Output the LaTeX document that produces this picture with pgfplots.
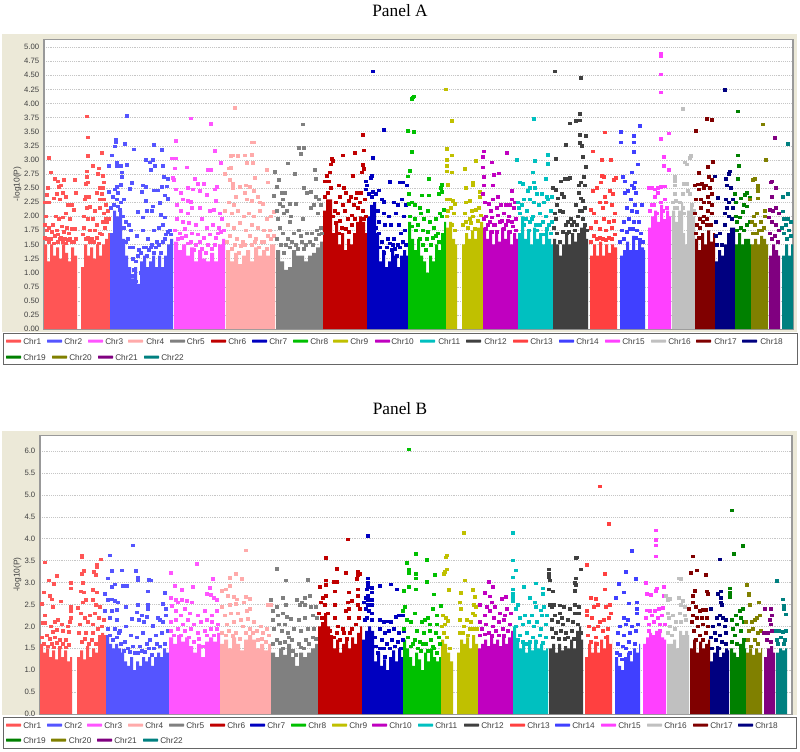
\documentclass[border=0pt]{standalone}
\usepackage{pgfplots}
\pgfplotsset{compat=1.18}
\usepackage{fontspec}
\setmainfont{Liberation Sans}
\newfontfamily\titlefont{Liberation Serif}
\definecolor{c1}{HTML}{FF5555}\definecolor{c2}{HTML}{5555FF}\definecolor{c3}{HTML}{FF55FF}\definecolor{c4}{HTML}{FFAAAA}
\definecolor{c5}{HTML}{808080}\definecolor{c6}{HTML}{C00000}\definecolor{c7}{HTML}{0000C0}\definecolor{c8}{HTML}{00C000}
\definecolor{c9}{HTML}{C0C000}\definecolor{c10}{HTML}{C000C0}\definecolor{c11}{HTML}{00C0C0}\definecolor{c12}{HTML}{404040}
\definecolor{c13}{HTML}{FF4040}\definecolor{c14}{HTML}{4040FF}\definecolor{c15}{HTML}{FF40FF}\definecolor{c16}{HTML}{C0C0C0}
\definecolor{c17}{HTML}{800000}\definecolor{c18}{HTML}{000080}\definecolor{c19}{HTML}{008000}\definecolor{c20}{HTML}{808000}
\definecolor{c21}{HTML}{800080}\definecolor{c22}{HTML}{008080}
\definecolor{beige}{HTML}{ECE9D8}
\pgfplotsset{
 S/.style={fill=#1,draw=none,const plot},
 P/.style={only marks,mark=square*,mark size=1pt,color=#1,mark options={draw=none,fill=#1}},
 man/.style={scale only axis,anchor=north west,xtick=\empty,major tick length=0pt,
  ymajorgrids,grid style={densely dotted,gray!45,line width=0.35pt},
  axis line style={draw=black!40,line width=0.8pt},
  axis background/.style={fill=white},
  clip=true,axis on top=false,
  tick label style={font=\fontsize{5.8}{7}\selectfont,text=black!75},
  yticklabel style={/pgf/number format/.cd,fixed,fixed zerofill,assume math mode=true},
  ylabel={-log10(P)}},
}
\newcommand\legendrow[2]{\foreach \c/\n/\a/\t in {#2}{%
  \fill[\c,rounded corners=0.4pt] (\a,#1-1.5) rectangle (\a+15,#1+1.5);
  \node[anchor=west,inner sep=0pt,font=\fontsize{6.2}{7}\selectfont,text=black!75] at (\t,#1) {\n};}}
\begin{document}
\begin{tikzpicture}
\begin{scope}[x=0.75pt,y=-0.75pt]
\fill[white] (0,0) rectangle (800,749);
\fill[beige] (2,32) rectangle (797,330);
\fill[beige] (2,429) rectangle (797,713);
\node[font=\titlefont\fontsize{13}{15}\selectfont] at (400,8.5) {Panel A};
\node[font=\titlefont\fontsize{13}{15}\selectfont] at (400,407) {Panel B};
\coordinate (A) at (44,37);
\coordinate (B) at (40,433);
\draw[black!60,fill=white,line width=0.7pt] (3,331) rectangle (797,362);
\draw[black!60,fill=white,line width=0.7pt] (3,715) rectangle (796,746);
\legendrow{339}{c1/Chr1/6/23,c2/Chr2/47/64,c3/Chr3/88/105,c4/Chr4/128/146,c5/Chr5/170/186.6,c6/Chr6/211/228,c7/Chr7/252/269,c8/Chr8/293/310,c9/Chr9/333/350,c10/Chr10/375/391,c11/Chr11/420/438,c12/Chr12/466/484,c13/Chr13/513/530,c14/Chr14/559/576,c15/Chr15/605/622,c16/Chr16/651/668,c17/Chr17/696/714,c18/Chr18/742/760}
\legendrow{355}{c19/Chr19/6/23,c20/Chr20/52/69,c21/Chr21/98/115,c22/Chr22/144/161}
\legendrow{723}{c1/Chr1/6/23,c2/Chr2/47/64,c3/Chr3/87/104,c4/Chr4/128/145,c5/Chr5/169/186,c6/Chr6/210/227,c7/Chr7/250/267,c8/Chr8/291/308,c9/Chr9/332/349,c10/Chr10/372/389,c11/Chr11/418/435,c12/Chr12/464/481,c13/Chr13/510/527,c14/Chr14/555/572,c15/Chr15/601/618,c16/Chr16/647/664,c17/Chr17/693/710,c18/Chr18/738/755}
\legendrow{738}{c19/Chr19/6/23,c20/Chr20/51/68.6,c21/Chr21/97/114,c22/Chr22/143/160}
\end{scope}
\begin{axis}[man,at={(A)},width=561.75pt,height=217.5pt,xmin=44,xmax=793,ymin=0,ymax=5.142,
 ytick={0,0.25,...,5.01},yticklabel style={/pgf/number format/precision=2},
 every axis y label/.style={at={(rel axis cs:0,0.5)},xshift=-20pt,rotate=90,anchor=center,font=\fontsize{6.3}{7}\selectfont,text=black!75}]
\addplot[S=c1] table {
44 1.5
47 1.2
50 1.5
53 1.3
56 1.45
59 1.25
62 1.5
65 1.35
68 1.2
71 1.45
74 1.3
77 1.3
} \closedcycle;
\addplot[S=c1] table {
81 1.1
84 1.5
87 1.3
90 1.45
93 1.25
96 1.5
99 1.3
102 1.5
105 1.6
108 1.7
110 1.7
} \closedcycle;
\addplot[P=c1] table {
49 3.04
51 2.78
48 2.5
45 2.25
49 2.25
47 2.38
55 2.67
58 2.62
61 2.55
64 2.65
59 2.52
63 2.42
57 2.4
60 2.3
54 2.32
66 2.35
68 2.2
66 2.05
72 2.2
75 2.65
76 2.42
74 2.12
56 2.0
59 1.95
63 1.98
70 1.95
46 2.0
45 1.85
47 1.75
49 1.8
53 1.85
57 1.75
62 1.82
67 1.8
72 1.78
75 1.78
51 1.6
55 1.65
60 1.6
65 1.6
70 1.6
74 1.55
47 1.6
52 1.72
58 1.68
64 1.72
69 1.7
45 1.62
49 1.55
54 1.52
58 1.55
61 1.62
63 1.55
66 1.52
68 1.58
72 1.55
76 1.6
87 3.77
88 3.40
88 3.07
102 3.12
93 2.90
99 2.85
98 2.75
87 2.8
87 2.7
86 2.58
88 2.6
103 2.72
104 2.6
100 2.5
103 2.5
97 2.42
102 2.4
86 2.35
89 2.35
85 2.3
100 2.3
104 2.3
90 2.17
87 2.15
95 2.1
100 2.15
106 2.2
108 2.1
84 2.0
88 1.95
93 1.95
97 1.85
103 1.9
107 1.9
84 1.8
90 1.75
95 1.75
100 1.7
86 1.6
92 1.6
83 1.68
88 1.62
90 1.55
94 1.55
97 1.62
99 1.52
102 1.68
105 1.8
106 1.95
109 1.95
104 2.05
};
\addplot[S=c2] table {
110 1.7
113 2.1
116 2.0
119 2.1
122 1.6
125 1.3
128 1.1
131 0.9
134 1.1
137 0.8
140 1.2
143 1.3
146 1.1
149 1.2
152 1.3
155 1.1
158 1.3
161 1.1
164 1.3
167 1.5
170 1.6
173 1.6
} \closedcycle;
\addplot[P=c2] table {
116 3.36
116 3.32
115 3.24
125 3.28
127 3.78
134 3.19
112 3.08
109 2.9
117 2.96
117 2.9
121 2.9
127 2.91
146 3.0
153 3.0
154 3.27
162 3.18
150 2.96
151 2.82
155 2.9
163 2.89
164 2.7
168 2.66
122 2.78
122 2.7
132 2.59
130 2.49
121 2.56
117 2.52
109 2.43
115 2.48
118 2.42
142 2.43
143 2.55
146 2.52
154 2.46
158 2.46
162 2.52
167 2.53
165 2.37
168 2.31
146 2.28
160 2.24
153 2.18
113 2.35
117 2.3
121 2.25
124 2.3
138 2.08
143 1.98
147 2.1
152 2.1
161 2.03
165 1.98
129 1.85
131 1.75
137 1.65
143 1.75
148 1.6
154 1.75
159 1.8
163 1.85
170 1.75
126 1.55
133 1.45
139 1.4
146 1.45
151 1.45
157 1.55
165 1.6
134 1.05
132 0.95
136 0.85
141 1.0
111 2.15
114 2.2
118 2.18
120 2.12
123 2.0
124 1.8
126 1.9
128 1.6
130 1.45
133 1.25
136 1.2
138 1.3
141 1.35
144 1.45
147 1.3
149 1.4
152 1.5
154 1.35
156 1.45
159 1.5
161 1.35
163 1.55
166 1.68
168 1.72
171 1.68
};
\addplot[S=c3] table {
174 1.55
178 1.4
182 1.5
186 1.3
190 1.45
194 1.2
198 1.4
202 1.25
206 1.2
210 1.35
214 1.2
218 1.5
222 1.6
225 1.6
} \closedcycle;
\addplot[P=c3] table {
176 3.34
172 3.03
176 3.03
175 2.85
174 2.65
173 2.68
176 2.48
181 2.42
187 2.87
191 3.74
195 2.67
188 2.5
193 2.48
198 2.58
200 2.45
204 2.58
208 2.82
211 2.83
211 3.64
215 3.16
221 2.95
217 2.52
215 2.48
216 2.28
207 2.38
183 2.3
188 2.28
191 2.26
200 2.15
177 2.2
181 2.1
188 2.05
192 2.15
210 2.1
214 2.12
220 2.05
177 1.95
183 1.9
189 1.88
196 1.85
202 1.95
207 1.8
213 1.85
219 1.8
222 1.95
180 1.7
186 1.65
192 1.7
198 1.68
204 1.62
210 1.68
216 1.62
198 1.15
205 1.1
211 1.15
175 1.75
178 1.6
182 1.62
185 1.78
188 1.52
191 1.55
194 1.4
196 1.5
200 1.55
202 1.42
206 1.35
208 1.5
212 1.42
215 1.5
218 1.7
221 1.72
224 1.75
};
\addplot[S=c4] table {
226 1.4
230 1.2
234 1.35
238 1.15
242 1.3
246 1.4
250 1.2
254 1.45
258 1.3
262 1.4
266 1.3
270 1.5
275 1.5
} \closedcycle;
\addplot[P=c4] table {
235 3.92
231 3.07
233 3.08
229 2.85
231 2.86
225 2.75
230 2.65
233 2.58
238 3.07
245 3.08
252 3.09
252 3.31
254 3.31
247 2.95
253 2.95
240 2.52
233 2.5
236 2.35
229 2.25
234 2.2
246 2.55
250 2.52
254 2.45
245 2.42
258 2.35
247 2.3
252 2.28
260 2.25
263 2.22
268 2.6
267 2.82
255 2.68
225 2.1
232 2.05
238 2.1
244 2.0
249 2.05
254 2.0
260 2.1
267 1.95
271 2.0
274 2.08
228 1.85
234 1.8
240 1.88
246 1.75
252 1.85
258 1.8
264 1.75
270 1.75
230 1.65
237 1.6
243 1.55
250 1.65
256 1.6
262 1.55
268 1.65
227 1.55
232 1.42
235 1.5
239 1.35
241 1.48
245 1.5
248 1.38
252 1.5
255 1.55
259 1.45
264 1.55
267 1.42
271 1.6
274 1.65
};
\addplot[S=c5] table {
276 1.4
280 1.2
284 1.05
288 1.1
292 1.4
296 1.3
300 1.3
304 1.2
308 1.3
312 1.35
316 1.45
320 1.55
323 1.55
} \closedcycle;
\addplot[P=c5] table {
275 2.79
279 2.65
277 2.52
274 2.36
280 2.22
282 2.42
285 2.42
288 2.94
295 2.75
299 3.22
301 3.11
304 3.22
303 3.63
304 2.5
307 2.42
311 2.44
315 2.83
316 2.67
316 2.35
283 2.3
283 2.18
284 2.05
287 2.1
291 2.0
296 2.22
290 2.22
290 1.9
303 1.95
311 2.15
314 2.2
319 2.3
321 2.2
318 2.05
277 2.1
278 1.95
280 1.8
283 1.7
288 1.6
294 1.7
299 1.75
302 1.55
307 1.7
312 1.7
317 1.75
321 1.8
277 1.6
281 1.5
284 1.35
286 1.5
290 1.45
292 1.55
296 1.5
298 1.42
301 1.65
304 1.42
306 1.5
310 1.55
313 1.5
316 1.6
319 1.68
322 1.7
};
\addplot[S=c6] table {
323 2.1
326 2.3
329 2.3
332 1.7
335 1.9
338 1.5
341 1.7
344 1.4
347 1.6
350 1.5
353 1.7
356 1.9
359 2.0
362 1.9
365 1.7
367 1.7
} \closedcycle;
\addplot[P=c6] table {
333 2.98
332 3.02
331 2.92
330 2.78
327 2.72
329 2.62
325 2.62
331 2.5
328 2.42
325 2.35
343 3.08
355 3.12
353 2.72
364 3.17
363 2.91
364 2.84
362 2.78
363 3.44
339 2.55
344 2.5
346 2.42
351 2.35
357 2.42
356 2.32
361 2.42
365 2.3
340 2.35
336 2.25
343 2.2
349 2.28
354 2.2
360 2.25
338 2.05
345 2.1
352 2.02
358 2.15
363 2.1
335 2.1
348 1.95
333 2.0
336 1.88
340 1.92
342 1.8
346 1.78
349 1.72
352 1.85
355 1.95
364 1.95
366 2.0
339 1.7
};
\addplot[S=c7] table {
367 2.0
370 2.2
373 2.25
376 1.7
379 1.2
382 1.4
385 1.1
388 1.2
391 1.4
394 1.3
397 1.1
400 1.3
403 1.4
406 1.3
408 1.3
} \closedcycle;
\addplot[P=c7] table {
373 4.57
384 3.53
373 3.04
372 2.72
371 2.68
366 2.62
367 2.55
366 2.48
369 2.4
373 2.44
379 2.46
372 2.35
376 2.4
390 2.61
400 2.6
382 2.3
384 2.26
378 2.1
394 2.25
398 2.2
403 2.6
407 2.55
384 2.05
389 2.0
396 2.05
402 2.3
406 2.2
379 1.9
385 1.85
391 1.85
399 1.85
404 2.0
379 1.7
388 1.6
394 1.6
401 1.7
405 1.75
382 1.55
392 1.4
398 1.5
376 1.8
377 1.6
380 1.45
384 1.35
387 1.45
390 1.52
393 1.5
395 1.42
397 1.3
400 1.45
403 1.55
406 1.5
};
\addplot[S=c8] table {
408 1.9
411 1.6
414 1.4
417 1.6
420 1.3
423 1.2
426 1.0
429 1.3
432 1.2
435 1.5
438 1.4
441 1.7
444 1.9
446 1.9
} \closedcycle;
\addplot[P=c8] table {
413 4.11
414 4.13
412 4.08
408 3.52
414 3.50
412 3.14
410 2.81
408 2.71
429 2.67
442 2.56
441 2.5
409 2.4
422 2.37
429 2.37
439 2.4
442 2.43
412 2.25
409 2.22
415 2.2
420 2.15
421 2.05
428 2.1
440 2.05
444 2.12
415 1.95
424 1.95
430 1.9
436 1.95
442 2.0
416 1.75
423 1.75
428 1.72
434 1.8
438 1.7
410 2.0
412 1.82
418 1.85
420 1.6
423 1.5
426 1.4
427 1.6
431 1.5
433 1.62
436 1.65
439 1.55
};
\addplot[S=c9] table {
446 1.8
449 1.9
452 1.6
455 1.5
457 1.5
} \closedcycle;
\addplot[S=c9] table {
462 1.5
465 1.7
468 1.6
471 1.75
474 1.6
477 1.8
480 1.9
483 1.9
} \closedcycle;
\addplot[P=c9] table {
446 4.25
452 3.69
447 3.2
452 3.08
447 3.0
447 2.9
447 2.8
452 2.78
448 2.56
465 2.84
476 2.98
466 2.5
473 2.6
473 2.55
480 2.43
480 2.35
447 2.3
450 2.3
453 2.28
455 2.22
448 2.1
451 2.15
454 2.05
447 2.0
466 2.25
470 2.28
472 2.1
476 2.12
479 2.15
465 2.05
470 1.95
473 2.0
466 1.9
452 1.85
455 1.75
463 1.85
468 1.8
471 1.88
475 1.78
478 1.92
481 2.02
};
\addplot[S=c10] table {
483 1.8
486 1.6
489 1.75
492 1.5
495 1.7
498 1.55
501 1.8
504 1.6
507 1.75
510 1.5
513 1.7
516 1.6
518 1.6
} \closedcycle;
\addplot[P=c10] table {
484 3.15
483 3.05
483 2.87
492 2.96
507 3.12
494 2.74
499 2.76
484 2.7
484 2.55
493 2.55
512 2.45
512 2.3
498 2.35
493 2.3
489 2.22
483 2.4
485 2.25
491 2.1
497 2.15
501 2.2
506 2.2
510 2.2
515 2.25
486 2.0
492 1.98
498 2.02
504 2.05
509 2.0
514 2.15
488 1.85
494 1.85
500 1.9
506 1.85
512 1.9
484 1.95
486 1.78
490 1.9
492 1.72
495 1.85
497 1.72
502 1.92
504 1.78
508 1.92
510 1.72
513 1.82
516 1.95
516 1.75
};
\addplot[S=c11] table {
518 1.7
521 2.0
524 1.6
527 1.75
530 1.5
533 1.8
536 1.6
539 1.7
542 1.5
545 1.75
548 1.6
551 1.5
553 1.5
} \closedcycle;
\addplot[P=c11] table {
517 3.0
534 3.73
535 2.98
548 3.09
548 2.93
533 2.78
546 2.67
520 2.6
523 2.58
534 2.6
535 2.5
528 2.45
530 2.5
537 2.4
542 2.4
547 2.35
552 2.35
518 2.25
524 2.3
530 2.3
534 2.25
539 2.2
544 2.25
548 2.3
520 2.05
527 2.1
533 2.0
540 2.05
546 2.0
551 2.1
524 1.85
530 1.9
536 1.85
543 1.9
549 1.85
519 2.15
522 2.2
526 1.95
529 1.75
532 1.95
537 1.75
540 1.85
543 1.68
547 1.78
551 1.7
552 1.9
};
\addplot[S=c12] table {
553 1.6
556 1.5
559 1.3
562 1.5
565 1.7
568 1.5
571 1.7
574 1.55
577 1.7
580 1.8
583 1.85
586 1.6
588 1.6
} \closedcycle;
\addplot[P=c12] table {
555 4.57
581 4.45
580 3.82
580 3.7
576 3.69
570 3.65
580 3.45
586 3.43
566 3.27
582 3.25
580 3.3
556 3.02
583 3.05
586 2.88
565 2.66
561 2.62
568 2.66
570 2.68
584 2.7
581 2.6
579 2.55
585 2.55
553 2.5
556 2.47
562 2.4
564 2.35
558 2.32
579 2.42
581 2.32
583 2.28
576 2.2
585 2.15
557 2.2
560 2.1
563 2.08
555 2.05
556 1.95
568 1.9
578 2.0
572 1.85
567 1.7
575 1.75
583 1.95
554 1.8
557 1.7
560 1.55
563 1.72
566 1.85
569 1.72
571 1.95
574 1.9
577 1.85
580 2.1
582 2.1
585 1.85
587 1.75
};
\addplot[S=c13] table {
590 1.3
593 1.5
596 1.3
599 1.55
602 1.3
605 1.5
608 1.35
611 1.5
614 1.45
617 1.45
} \closedcycle;
\addplot[P=c13] table {
593 3.15
605 3.49
602 3.0
611 3.0
602 2.72
604 2.7
614 2.65
616 2.68
601 2.6
597 2.5
593 2.45
610 2.45
613 2.4
605 2.35
600 2.25
606 2.25
591 2.12
594 2.05
603 2.15
612 2.2
615 2.05
596 1.9
604 1.95
609 1.9
614 1.92
591 1.8
600 1.78
606 1.75
612 1.8
594 1.65
603 1.6
615 1.68
591 1.55
597 1.6
600 1.62
606 1.58
609 1.62
612 1.6
};
\addplot[S=c14] table {
620 1.3
623 1.4
626 1.55
629 1.4
632 1.65
635 1.4
638 1.6
641 1.45
644 1.4
645 1.4
} \closedcycle;
\addplot[P=c14] table {
621 3.5
621 3.31
634 3.43
634 3.31
634 3.14
640 3.6
638 2.92
632 2.78
623 2.7
625 2.62
635 2.6
632 2.55
628 2.45
625 2.42
634 2.5
636 2.42
631 2.3
635 2.2
642 2.2
627 2.15
632 2.1
637 2.08
624 1.9
629 1.95
634 1.9
639 1.9
622 1.75
630 1.78
637 1.75
641 1.7
620 1.55
624 1.6
627 1.72
633 1.78
636 1.62
640 1.58
643 1.55
};
\addplot[S=c15] table {
648 1.8
651 2.0
654 2.1
657 1.9
660 2.2
663 1.95
666 2.1
669 2.0
671 2.0
} \closedcycle;
\addplot[P=c15] table {
661 4.88
661 4.84
661 4.52
661 4.2
661 3.37
669 3.47
664 3.05
664 2.9
669 2.82
649 2.5
652 2.5
655 2.48
658 2.5
661 2.52
665 2.53
658 2.42
655 2.35
661 2.25
665 2.3
652 2.2
667 2.15
650 2.1
654 2.2
657 2.05
663 2.1
};
\addplot[S=c16] table {
672 2.1
675 1.9
678 2.1
681 2.25
683 1.7
685 1.5
687 2.1
690 2.2
693 2.0
695 2.0
} \closedcycle;
\addplot[P=c16] table {
683 3.91
691 3.07
690 3.04
685 2.96
687 2.92
675 2.7
675 2.63
675 2.55
684 2.58
687 2.58
675 2.4
683 2.4
688 2.45
690 2.4
676 2.28
680 2.25
684 2.05
675 2.15
683 2.15
673 2.25
677 2.15
692 2.2
694 2.1
};
\addplot[S=c17] table {
695 1.6
698 1.4
701 1.7
704 1.5
707 1.75
710 1.55
713 1.7
715 1.7
} \closedcycle;
\addplot[P=c17] table {
696 3.52
707 3.73
712 3.71
713 2.97
708 2.88
699 2.77
709 2.7
712 2.65
695 2.55
698 2.57
702 2.58
706 2.55
704 2.5
710 2.5
699 2.48
712 2.4
708 2.35
696 2.3
701 2.3
704 2.25
709 2.25
712 2.2
701 2.15
695 2.05
708 2.1
712 2.05
700 1.95
704 2.0
707 1.95
697 1.85
700 1.8
703 1.9
707 1.85
711 1.85
696 1.7
699 1.62
};
\addplot[S=c18] table {
715 1.2
718 1.4
721 1.3
724 1.5
727 1.7
730 1.8
733 1.8
735 1.8
} \closedcycle;
\addplot[P=c18] table {
725 4.24
730 2.8
729 2.75
715 2.71
726 2.67
727 2.55
731 2.5
718 2.33
726 2.3
729 2.25
733 2.3
727 2.15
733 2.15
725 2.05
729 2.0
732 1.95
716 1.9
720 1.7
716 1.65
725 1.85
717 1.5
722 1.5
};
\addplot[S=c19] table {
735 1.5
738 1.7
741 1.5
744 1.6
747 1.6
750 1.5
751 1.5
} \closedcycle;
\addplot[P=c19] table {
738 3.86
738 3.08
739 2.9
738 2.67
735 2.4
736 2.25
741 2.32
747 2.42
745 2.38
750 2.33
747 2.18
744 2.2
743 2.08
736 2.0
740 1.98
737 1.9
750 1.9
747 1.85
741 1.8
744 1.75
737 1.75
};
\addplot[S=c20] table {
751 1.5
754 1.6
757 1.5
760 1.65
763 1.6
766 1.5
768 1.5
} \closedcycle;
\addplot[P=c20] table {
763 3.63
766 3.0
753 2.65
755 2.66
758 2.55
758 2.5
758 2.45
750 2.3
758 2.32
765 2.1
765 2.0
757 2.05
754 2.0
752 1.9
761 1.9
755 1.85
759 1.75
764 1.8
753 1.7
757 1.7
762 1.75
};
\addplot[S=c21] table {
769 1.3
772 1.5
775 1.4
778 1.3
780 1.3
} \closedcycle;
\addplot[P=c21] table {
775 3.39
772 2.62
771 2.6
776 2.5
772 2.35
770 2.12
773 2.1
776 2.15
779 2.05
769 1.98
772 1.9
776 1.85
779 1.75
770 1.7
775 1.65
772 1.6
778 1.55
};
\addplot[S=c22] table {
782 1.3
785 1.5
788 1.3
791 1.5
793 1.5
} \closedcycle;
\addplot[P=c22] table {
788 3.29
788 2.4
783 2.34
783 2.09
784 1.95
788 1.95
791 1.9
782 1.8
786 1.85
789 1.75
784 1.7
791 1.65
787 1.6
};
\end{axis}
\begin{axis}[man,at={(B)},width=564pt,height=209.25pt,xmin=40,xmax=792,ymin=0,ymax=6.365,
 ytick={0,0.5,...,6.01},yticklabel style={/pgf/number format/precision=1},
 every axis y label/.style={at={(rel axis cs:0,0.5)},xshift=-17pt,rotate=90,anchor=center,font=\fontsize{6.3}{7}\selectfont,text=black!75}]
\addplot[S=c1] table {
40 1.6
43 1.4
46 1.5
49 1.3
52 1.45
55 1.25
58 1.55
61 1.3
64 1.45
67 1.2
70 1.3
72 1.3
} \closedcycle;
\addplot[S=c1] table {
77 1.3
80 1.45
83 1.25
86 1.55
89 1.3
92 1.5
95 1.4
98 1.8
101 1.85
104 1.8
106 1.8
} \closedcycle;
\addplot[P=c1] table {
45 3.46
49 3.05
57 3.16
54 2.97
71 3.0
71 2.87
44 2.78
42 2.52
50 2.7
52 2.62
53 2.45
61 2.57
71 2.45
71 2.35
45 2.25
43 2.08
45 2.08
51 2.0
55 2.1
58 2.15
62 2.05
71 2.2
70 2.1
68 2.0
47 1.8
53 1.88
57 1.92
63 1.9
69 1.88
42 1.75
50 1.72
55 1.75
60 1.7
66 1.7
44 1.6
48 1.55
52 1.6
54 1.52
57 1.62
60 1.52
63 1.6
66 1.52
69 1.58
82 3.62
82 3.58
84 3.27
82 3.2
94 3.24
97 3.42
97 3.35
101 3.53
96 3.18
83 3.0
81 2.8
84 2.78
93 2.83
97 2.78
86 2.6
83 2.55
93 2.6
96 2.5
100 2.45
78 2.42
81 2.3
85 2.2
90 2.25
95 2.3
99 2.2
104 2.15
80 2.05
88 2.1
93 2.05
102 2.0
79 1.85
86 1.85
93 1.85
82 1.65
85 1.72
89 1.6
92 1.7
96 1.6
98 1.95
};
\addplot[S=c2] table {
106 1.8
109 1.6
112 1.5
115 1.6
118 1.5
121 1.4
124 1.2
127 1.1
130 1.3
133 1.0
136 1.2
139 1.1
142 1.3
145 1.2
148 1.3
151 1.1
154 1.3
157 1.4
160 1.3
163 1.5
166 1.4
169 1.4
} \closedcycle;
\addplot[P=c2] table {
110 3.62
112 3.27
108 3.1
122 3.28
136 3.27
133 3.85
123 2.92
127 2.93
115 2.96
112 2.9
138 3.12
138 3.05
149 3.06
151 3.05
148 2.8
165 2.76
105 2.75
108 2.6
112 2.62
115 2.58
118 2.55
138 2.5
148 2.5
148 2.4
163 2.52
166 2.4
126 2.44
105 2.35
112 2.35
117 2.38
137 2.32
142 2.25
147 2.22
160 2.15
166 2.25
110 2.2
117 2.15
126 2.0
132 2.18
139 2.15
144 2.1
153 2.02
158 2.2
163 2.1
115 1.95
120 1.9
131 1.8
137 1.75
143 1.85
150 1.7
156 1.8
162 1.85
168 1.9
125 1.65
133 1.55
140 1.55
147 1.6
154 1.5
108 1.95
110 1.8
113 1.7
117 1.75
119 1.85
121 1.6
124 1.45
128 1.5
130 1.42
135 1.4
138 1.4
142 1.45
145 1.42
149 1.5
152 1.35
157 1.6
160 1.55
165 1.6
};
\addplot[S=c3] table {
169 1.75
173 1.6
177 1.8
181 1.65
185 1.75
189 1.55
193 1.4
197 1.6
201 1.3
205 1.65
209 1.75
213 1.65
217 1.85
220 1.85
} \closedcycle;
\addplot[P=c3] table {
171 3.22
175 2.93
182 2.84
193 2.9
197 3.43
210 2.88
213 3.08
207 2.75
211 2.72
214 2.65
217 2.6
171 2.65
176 2.6
172 2.47
178 2.55
182 2.6
187 2.58
192 2.55
176 2.35
181 2.25
185 2.4
190 2.3
198 2.25
205 2.35
212 2.25
217 2.35
171 2.1
176 2.15
183 2.05
188 2.15
194 2.05
201 2.1
207 2.15
212 2.1
218 2.05
171 1.9
178 1.95
185 1.9
191 1.95
198 1.85
205 1.9
211 1.95
217 1.95
174 1.8
181 1.8
189 1.75
194 1.65
199 1.72
203 1.55
207 1.8
214 1.8
};
\addplot[S=c4] table {
220 1.6
224 1.7
228 1.5
232 1.75
236 1.6
240 1.45
244 1.7
248 1.8
252 1.7
256 1.5
260 1.6
264 1.45
268 1.6
271 1.6
} \closedcycle;
\addplot[P=c4] table {
246 3.74
230 3.11
236 3.2
242 3.08
222 2.82
226 2.85
230 2.92
228 2.7
234 2.68
237 2.62
246 2.68
250 2.63
222 2.45
230 2.5
236 2.52
244 2.55
250 2.4
268 2.5
271 2.5
225 2.25
231 2.3
238 2.3
247 2.35
227 2.05
234 2.1
241 2.15
248 2.18
254 2.1
261 2.0
267 1.95
222 1.85
229 1.9
236 1.85
243 2.0
250 1.95
257 1.9
263 1.85
269 1.8
226 1.8
233 1.78
240 1.72
246 1.85
253 1.85
258 1.7
262 1.72
266 1.65
};
\addplot[S=c5] table {
271 1.4
275 1.3
279 1.5
283 1.35
287 1.6
291 1.3
295 1.1
299 1.4
303 1.3
307 1.4
311 1.5
315 1.6
318 1.6
} \closedcycle;
\addplot[P=c5] table {
277 3.32
286 3.05
308 3.07
271 2.6
277 2.45
283 2.65
286 2.5
297 2.6
302 2.55
305 2.65
310 2.7
273 2.35
278 2.25
283 2.3
287 2.22
300 2.5
305 2.5
311 2.45
316 2.45
273 2.15
279 2.05
285 2.05
291 2.18
299 2.15
305 2.2
313 2.25
317 2.2
274 1.95
282 1.9
288 1.85
294 1.95
301 1.9
308 1.95
314 1.95
277 1.7
285 1.65
292 1.7
299 1.6
306 1.7
313 1.75
273 1.6
280 1.62
283 1.5
289 1.75
293 1.45
296 1.35
301 1.52
304 1.5
309 1.6
316 1.72
};
\addplot[S=c6] table {
318 2.0
321 2.1
324 2.3
327 2.0
330 1.8
333 1.5
336 1.7
339 1.4
342 1.6
345 1.7
348 1.5
351 1.75
354 1.6
357 1.85
360 2.0
362 2.0
} \closedcycle;
\addplot[P=c6] table {
348 3.99
326 3.57
337 3.31
346 3.23
358 3.25
358 3.17
357 3.08
360 3.2
326 3.05
326 2.95
320 2.91
334 3.02
337 3.02
335 2.8
349 2.78
358 2.85
358 2.7
323 2.65
326 2.7
321 2.55
325 2.5
335 2.5
348 2.55
352 2.58
349 2.4
346 2.35
358 2.5
360 2.4
319 2.3
322 2.2
328 2.3
335 2.2
349 2.2
359 2.2
338 2.0
343 1.95
352 1.95
356 2.05
330 1.9
334 1.75
337 1.85
340 1.7
344 1.85
347 1.72
350 1.85
};
\addplot[S=c7] table {
362 1.7
365 1.9
368 2.0
371 1.9
374 1.2
377 1.4
380 1.1
383 1.25
386 1.0
389 1.3
392 1.45
395 1.2
398 1.5
401 1.3
403 1.3
} \closedcycle;
\addplot[P=c7] table {
368 4.07
368 3.1
368 3.0
368 2.9
367 2.85
372 2.88
372 2.78
368 2.7
368 2.6
366 2.65
372 2.6
368 2.5
372 2.5
366 2.4
369 2.35
364 2.55
372 2.3
367 2.2
372 2.15
365 2.15
380 2.92
391 2.96
397 2.85
380 2.15
384 2.1
387 2.12
391 2.1
396 2.22
399 2.25
403 2.25
380 1.95
385 1.85
389 1.9
394 1.95
399 1.85
404 1.9
375 1.75
382 1.7
387 1.6
392 1.7
398 1.65
403 1.7
378 1.4
385 1.3
376 1.55
380 1.5
384 1.5
390 1.5
395 1.55
401 1.5
};
\addplot[S=c8] table {
403 1.7
406 1.5
409 1.3
412 1.1
415 1.4
418 1.25
421 1.0
424 1.4
427 1.2
430 1.5
433 1.3
436 1.2
439 1.3
441 1.3
} \closedcycle;
\addplot[P=c8] table {
409 6.04
416 3.65
407 3.45
409 3.3
409 3.22
427 3.52
435 3.18
416 3.2
416 3.1
427 3.02
416 2.85
409 2.9
404 2.82
434 2.73
415 2.3
433 2.4
437 2.25
441 2.47
428 2.2
405 2.45
403 2.35
407 2.15
411 2.1
422 2.1
425 2.15
430 2.05
437 2.05
404 1.95
417 1.9
424 1.85
430 1.9
436 1.85
413 1.6
420 1.65
426 1.6
433 1.55
440 1.6
408 1.75
411 1.55
415 1.7
418 1.5
421 1.45
423 1.6
428 1.45
431 1.7
434 1.5
437 1.4
439 1.75
};
\addplot[S=c9] table {
441 1.7
444 1.6
447 1.4
450 1.2
453 0.9
} \closedcycle;
\addplot[S=c9] table {
457 1.4
460 1.7
463 1.6
466 1.75
469 1.5
472 1.8
475 1.6
478 1.6
} \closedcycle;
\addplot[P=c9] table {
464 4.13
446 3.58
447 3.62
445 3.25
444 3.2
447 3.3
449 2.83
465 3.05
461 2.77
473 2.83
475 2.67
443 2.25
446 2.2
448 2.13
445 2.05
442 2.0
460 2.55
461 2.4
476 2.45
474 2.5
473 2.3
460 2.15
467 2.15
471 2.1
475 2.25
464 2.0
470 1.95
477 1.95
444 1.85
447 1.75
450 1.5
460 1.85
463 1.85
468 1.8
473 1.95
};
\addplot[S=c10] table {
478 1.5
481 1.6
484 1.7
487 1.55
490 1.75
493 1.6
496 1.7
499 1.55
502 1.8
505 1.6
508 1.75
511 1.9
513 1.9
} \closedcycle;
\addplot[P=c10] table {
489 3.02
493 2.9
485 2.77
490 2.69
480 2.5
487 2.45
492 2.55
495 2.45
502 2.63
506 2.67
507 2.4
485 2.25
490 2.35
494 2.2
500 2.3
505 2.25
511 2.3
480 2.1
486 2.05
493 2.0
499 2.1
504 2.15
510 2.05
482 1.95
489 1.85
496 1.9
503 1.95
480 1.8
485 1.82
492 1.78
499 1.8
504 1.78
508 1.9
};
\addplot[S=c11] table {
513 2.0
516 1.7
519 1.5
522 1.6
525 1.4
528 1.65
531 1.45
534 1.7
537 1.5
540 1.6
543 1.45
546 1.5
548 1.5
} \closedcycle;
\addplot[P=c11] table {
513 4.14
513 3.51
516 3.28
513 3.12
513 2.85
513 2.75
513 2.65
524 2.9
536 2.98
543 2.87
543 2.75
530 2.65
535 2.55
513 2.58
518 2.5
516 2.4
536 2.45
544 2.45
541 2.37
520 2.2
525 2.25
532 2.25
537 2.1
542 2.25
547 2.25
516 2.0
523 2.05
529 2.1
534 2.0
541 1.95
546 2.05
520 1.8
527 1.85
533 1.75
540 1.8
546 1.75
518 1.7
523 1.65
526 1.6
530 1.65
536 1.65
543 1.62
};
\addplot[S=c12] table {
549 1.5
552 1.6
555 1.4
558 1.6
561 1.45
564 1.55
567 1.5
570 1.7
573 1.5
576 1.9
579 2.0
581 1.7
583 1.6
} \closedcycle;
\addplot[P=c12] table {
549 3.3
549 3.2
549 3.12
550 3.05
549 2.85
553 2.8
575 2.82
576 3.56
577 3.58
581 3.3
576 3.1
575 3.0
576 2.95
550 2.5
552 2.45
554 2.5
560 2.48
564 2.45
575 2.5
579 2.45
555 2.25
560 2.3
562 2.2
570 2.4
575 2.3
579 2.3
552 2.15
558 2.1
563 2.05
568 2.15
573 2.1
578 2.05
552 1.95
556 1.85
561 1.9
566 1.85
572 1.9
553 1.75
559 1.72
565 1.72
568 1.75
574 1.72
581 1.85
};
\addplot[S=c13] table {
585 1.3
588 1.6
591 1.4
594 1.65
597 1.4
600 1.7
603 1.5
606 1.8
609 1.6
612 1.7
} \closedcycle;
\addplot[P=c13] table {
600 5.2
609 4.34
587 3.4
605 3.2
605 2.85
591 2.65
596 2.63
587 2.35
594 2.45
598 2.5
606 2.45
610 2.5
587 2.25
592 2.2
600 2.1
604 2.15
609 2.2
611 2.3
589 2.0
594 1.95
598 2.0
603 1.9
608 1.95
588 1.8
596 1.75
606 1.75
591 1.65
597 1.6
};
\addplot[S=c14] table {
615 1.3
618 1.1
621 1.0
624 1.3
627 1.4
630 1.2
633 1.5
636 1.4
639 1.6
640 1.6
} \closedcycle;
\addplot[P=c14] table {
632 3.73
626 3.25
636 3.08
619 2.97
624 2.78
616 2.66
629 2.53
637 2.55
637 2.4
637 2.3
624 2.2
628 2.15
620 2.0
626 2.05
632 2.0
638 2.05
618 1.85
624 1.8
630 1.85
636 1.9
618 1.6
623 1.55
629 1.65
635 1.6
617 1.4
620 1.35
622 1.25
626 1.5
630 1.4
};
\addplot[S=c15] table {
643 1.6
646 1.75
649 1.85
652 1.8
655 1.9
658 1.85
661 1.75
664 1.7
666 1.7
} \closedcycle;
\addplot[P=c15] table {
656 4.19
656 3.97
656 3.85
656 3.6
646 3.0
657 2.87
664 2.9
656 2.82
647 2.75
651 2.72
664 2.7
647 2.37
650 2.35
655 2.35
659 2.4
663 2.42
646 2.2
652 2.25
658 2.2
662 2.25
649 2.05
654 2.1
660 2.05
665 2.05
649 1.9
660 1.9
};
\addplot[S=c16] table {
667 1.6
670 1.6
673 1.7
676 1.5
679 1.9
682 1.8
685 1.9
688 1.8
689 1.8
} \closedcycle;
\addplot[P=c16] table {
679 3.1
681 3.08
666 2.7
668 2.6
670 2.63
679 2.65
683 2.58
681 2.5
685 2.45
668 2.3
673 2.25
680 2.3
685 2.25
669 2.2
676 2.1
681 2.1
686 2.15
670 2.0
675 1.95
668 1.85
672 1.8
};
\addplot[S=c17] table {
690 1.5
693 1.7
696 1.4
699 1.65
702 1.5
705 1.6
708 1.7
710 1.7
} \closedcycle;
\addplot[P=c17] table {
693 3.6
691 3.22
697 3.28
706 3.18
695 2.82
707 2.8
708 2.75
693 2.7
693 2.55
696 2.45
700 2.35
703 2.38
706 2.38
693 2.25
697 2.2
702 2.2
707 2.2
689 2.4
692 2.1
698 2.0
703 2.05
708 2.0
694 1.9
700 1.8
706 1.85
696 1.7
703 1.7
};
\addplot[S=c18] table {
710 1.2
713 1.4
716 1.55
719 1.3
722 1.4
725 1.5
728 1.45
729 1.45
} \closedcycle;
\addplot[P=c18] table {
720 3.53
721 2.8
718 2.75
721 2.65
721 2.55
722 2.5
711 2.4
717 2.2
720 2.25
723 2.2
726 2.15
713 2.0
719 2.05
725 2.0
715 1.85
720 1.8
726 1.85
711 1.75
716 1.7
722 1.65
712 1.5
719 1.5
726 1.6
};
\addplot[S=c19] table {
730 1.5
733 1.4
736 1.3
739 1.6
742 1.7
745 1.5
746 1.5
} \closedcycle;
\addplot[P=c19] table {
732 4.65
743 3.84
734 3.65
730 2.87
730 2.76
730 2.68
743 2.4
740 2.35
736 2.25
741 2.2
732 2.15
737 2.05
744 2.1
733 1.95
741 1.9
735 1.8
732 1.65
737 1.6
744 1.7
};
\addplot[S=c20] table {
746 1.4
749 1.5
752 1.35
755 1.5
758 1.4
761 1.5
762 1.5
} \closedcycle;
\addplot[P=c20] table {
747 2.95
749 2.75
749 2.72
750 2.5
759 2.55
746 2.1
752 2.1
755 2.15
757 2.2
760 2.25
749 1.9
753 1.95
758 1.85
761 1.9
748 1.7
755 1.7
751 1.55
758 1.6
};
\addplot[S=c21] table {
764 1.3
767 1.5
770 1.55
773 1.4
775 1.4
} \closedcycle;
\addplot[P=c21] table {
765 2.4
771 2.4
772 2.25
770 2.15
771 2.05
764 1.85
768 1.85
772 1.9
767 1.7
771 1.65
};
\addplot[S=c22] table {
776 1.4
779 1.5
782 1.45
785 1.5
787 1.5
} \closedcycle;
\addplot[P=c22] table {
777 3.04
783 2.62
784 2.47
784 2.4
786 2.28
776 1.9
779 1.9
783 1.88
786 1.9
777 1.7
781 1.75
785 1.7
778 1.6
784 1.6
};
\end{axis}
\end{tikzpicture}
\end{document}
